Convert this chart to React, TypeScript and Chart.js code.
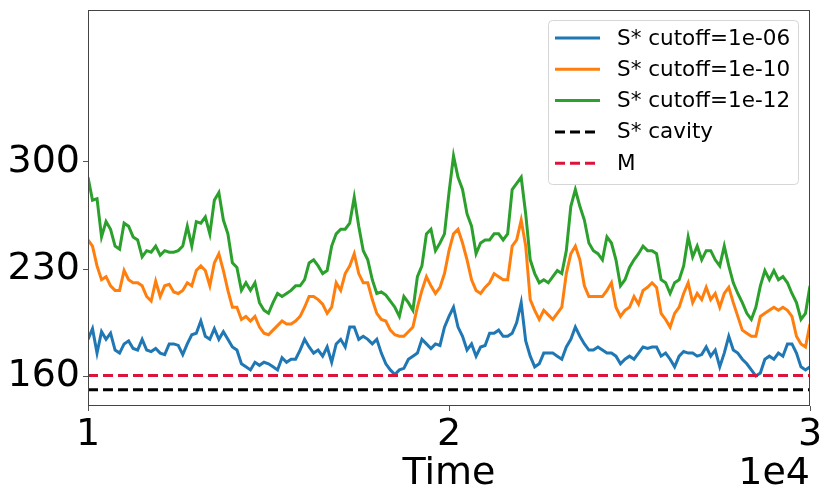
import { useEffect, useRef } from 'react'
import Chart from 'chart.js/auto'

// time axis, shared by the three S* series
const times = [
  10000, 10125, 10250, 10375, 10500, 10625, 10750, 10875, 11000, 11125,
  11250, 11375, 11500, 11625, 11750, 11875, 12000, 12125, 12250, 12375,
  12500, 12625, 12750, 12875, 13000, 13125, 13250, 13375, 13500, 13625,
  13750, 13875, 14000, 14125, 14250, 14375, 14500, 14625, 14750, 14875,
  15000, 15125, 15250, 15375, 15500, 15625, 15750, 15875, 16000, 16125,
  16250, 16375, 16500, 16625, 16750, 16875, 17000, 17125, 17250, 17375,
  17500, 17625, 17750, 17875, 18000, 18125, 18250, 18375, 18500, 18625,
  18750, 18875, 19000, 19125, 19250, 19375, 19500, 19625, 19750, 19875,
  20000, 20125, 20250, 20375, 20500, 20625, 20750, 20875, 21000, 21125,
  21250, 21375, 21500, 21625, 21750, 21875, 22000, 22125, 22250, 22375,
  22500, 22625, 22750, 22875, 23000, 23125, 23250, 23375, 23500, 23625,
  23750, 23875, 24000, 24125, 24250, 24375, 24500, 24625, 24750, 24875,
  25000, 25125, 25250, 25375, 25500, 25625, 25750, 25875, 26000, 26125,
  26250, 26375, 26500, 26625, 26750, 26875, 27000, 27125, 27250, 27375,
  27500, 27625, 27750, 27875, 28000, 28125, 28250, 28375, 28500, 28625,
  28750, 28875, 29000, 29125, 29250, 29375, 29500, 29625, 29750, 29875,
  30000,
]

const cutoff06 = [
  184, 191, 175, 189, 184, 188, 177, 175, 181, 183, 178, 177, 184, 177, 176, 178, 175,
  174, 181, 181, 180, 174, 181, 187, 188, 196, 186, 184, 191, 184, 189, 184, 179,
  177, 168, 166, 164, 169, 167, 169, 168, 166, 164, 172, 169, 171, 171, 177, 184,
  179, 175, 177, 173, 179, 169, 181, 184, 179, 192, 192, 184, 186, 184, 181, 184,
  175, 168, 164, 161, 164, 165, 171, 173, 175, 184, 181, 178, 181, 180, 192, 199,
  205, 192, 186, 177, 181, 173, 179, 180, 188, 188, 190, 186, 186, 188, 195, 208,
  183, 173, 166, 168, 175, 175, 175, 173, 171, 179, 184, 192, 186, 181, 177, 177,
  179, 177, 175, 175, 173, 168, 171, 173, 171, 175, 179, 178, 179, 179, 173, 175,
  171, 166, 173, 176, 175, 175, 173, 174, 179, 173, 177, 166, 175, 186, 177, 175,
  171, 168, 164, 160, 162, 171, 173, 171, 175, 173, 181, 181, 175, 166, 164, 166,
]

const cutoff10 = [
  249, 245, 232, 223, 225, 219, 216, 216, 229, 223, 221, 221, 219, 212, 209, 222, 212,
  219, 220, 215, 214, 216, 221, 219, 229, 232, 229, 219, 234, 240, 229, 216, 205,
  205, 197, 199, 196, 199, 192, 188, 187, 190, 193, 196, 194, 194, 196, 199, 205,
  212, 212, 210, 207, 201, 205, 221, 216, 227, 232, 240, 227, 221, 221, 210, 201,
  197, 196, 190, 187, 186, 186, 189, 192, 205, 216, 225, 219, 214, 218, 227, 242,
  253, 256, 247, 236, 223, 216, 214, 218, 221, 227, 225, 223, 223, 245, 249, 262,
  245, 210, 203, 197, 203, 200, 197, 201, 205, 227, 240, 245, 236, 219, 212, 212,
  212, 212, 216, 221, 205, 199, 203, 205, 212, 207, 216, 218, 221, 218, 201, 197,
  192, 201, 205, 214, 221, 208, 214, 210, 218, 210, 214, 205, 214, 218, 208, 199,
  190, 188, 186, 186, 199, 201, 203, 205, 203, 205, 203, 199, 186, 181, 179, 194,
]

const cutoff12 = [
  290, 275, 276, 251, 261, 256, 245, 243, 260, 258, 251, 249, 238, 242, 241, 245, 239,
  242, 241, 241, 242, 245, 258, 245, 261, 260, 264, 253, 275, 280, 262, 253, 234,
  231, 216, 221, 216, 221, 208, 203, 201, 208, 214, 212, 214, 216, 219, 219, 223,
  234, 236, 232, 227, 229, 245, 253, 256, 256, 260, 277, 258, 242, 236, 223, 214,
  215, 213, 209, 205, 199, 212, 208, 203, 225, 232, 253, 256, 242, 247, 253, 280,
  304, 290, 282, 266, 258, 240, 247, 249, 249, 253, 253, 249, 253, 282, 286, 290,
  266, 236, 227, 221, 223, 221, 225, 229, 227, 242, 271, 282, 271, 262, 247, 242,
  240, 236, 251, 247, 236, 219, 223, 231, 236, 240, 245, 242, 242, 240, 223, 221,
  214, 221, 223, 232, 251, 238, 245, 236, 242, 242, 236, 232, 245, 232, 221, 214,
  208, 201, 197, 205, 219, 229, 223, 229, 223, 225, 221, 214, 208, 197, 201, 219,
]

const cavityLevel = 151
const mLevel = 160.3

const yTicks = [160, 230, 300]
const xTicks = [10000, 20000, 30000]

const labels = ['S* cutoff=1e-06', 'S* cutoff=1e-10', 'S* cutoff=1e-12', 'S* cavity', 'M']
const colors = ['#1f77b4', '#ff7f0e', '#2ca02c', '#000000', '#dc143c']

const FONT = '"DejaVu Sans", sans-serif'

const framePlugin = {
  id: 'frame',
  afterDraw(chart: Chart) {
    const { ctx, chartArea: a } = chart
    ctx.save()
    // axes box
    ctx.strokeStyle = '#444'
    ctx.lineWidth = 1
    ctx.strokeRect(a.left + 0.5, a.top + 0.5, a.right - a.left - 1, a.bottom - a.top - 1)

    // x label + offset text
    ctx.fillStyle = '#000'
    ctx.font = `38px ${FONT}`
    ctx.textBaseline = 'alphabetic'
    ctx.textAlign = 'center'
    ctx.fillText('Time', (a.left + a.right) / 2, 484)
    ctx.textAlign = 'right'
    ctx.fillText('1e4', a.right, 484)

    // legend in the upper right
    const bw = 250
    const bh = 164
    const bx = a.right - 12 - bw
    const by = a.top + 10
    ctx.beginPath()
    ctx.roundRect(bx + 0.5, by + 0.5, bw, bh, 4)
    ctx.fillStyle = 'rgba(255,255,255,0.8)'
    ctx.fill()
    ctx.strokeStyle = '#d6d6d6'
    ctx.stroke()
    ctx.font = `21.5px ${FONT}`
    ctx.textAlign = 'left'
    ctx.textBaseline = 'middle'
    labels.forEach((lab, i) => {
      const y = by + 18 + i * 31.3
      ctx.beginPath()
      ctx.strokeStyle = colors[i]
      ctx.lineWidth = 3
      ctx.setLineDash(i > 2 ? [10, 5] : [])
      ctx.moveTo(bx + 7, y)
      ctx.lineTo(bx + 52, y)
      ctx.stroke()
      ctx.setLineDash([])
      ctx.fillStyle = '#000'
      ctx.fillText(lab, bx + 69, y + 1)
    })
    ctx.restore()
  },
}

export default function App() {
  const canvasRef = useRef<HTMLCanvasElement>(null)
  const chartRef = useRef<Chart | null>(null)

  useEffect(() => {
    document.body.style.margin = '0'
    if (!canvasRef.current) return
    if (chartRef.current) chartRef.current.destroy()

    const series = [cutoff06, cutoff10, cutoff12]
    const lineSets = series.map((vals, i) => ({
      label: labels[i],
      data: times.map((t, j) => ({ x: t, y: vals[j] })),
      borderColor: colors[i],
      borderWidth: 3,
      pointRadius: 0,
      tension: 0,
      order: 5 - i,
    }))
    const levelSets = [cavityLevel, mLevel].map((lvl, k) => ({
      label: labels[3 + k],
      data: [
        { x: times[0], y: lvl },
        { x: times[times.length - 1], y: lvl },
      ],
      borderColor: colors[3 + k],
      borderWidth: 3,
      borderDash: [10, 5],
      pointRadius: 0,
      order: 2 - k,
    }))

    chartRef.current = new Chart(canvasRef.current, {
      type: 'line',
      data: { datasets: [...lineSets, ...levelSets] },
      plugins: [framePlugin],
      options: {
        animation: false,
        responsive: true,
        maintainAspectRatio: false,
        layout: { padding: { top: 10, right: 20, left: 0, bottom: 0 } },
        plugins: {
          legend: { display: false },
          tooltip: { enabled: false },
        },
        scales: {
          x: {
            type: 'linear',
            min: 10000,
            max: 30000,
            afterBuildTicks: (axis: any) => {
              axis.ticks = xTicks.map((v) => ({ value: v }))
            },
            afterFit: (axis: any) => {
              axis.height = 93
              axis.paddingLeft = 0
              axis.paddingRight = 0
            },
            ticks: {
              callback: (v: any) => String(Number(v) / 10000),
              color: '#000',
              font: { family: FONT, size: 38 },
              padding: 1,
              maxRotation: 0,
            },
            grid: { drawOnChartArea: false, tickLength: 5, color: '#555' },
            border: { display: false },
          },
          y: {
            type: 'linear',
            min: 140.4,
            max: 399.4,
            afterBuildTicks: (axis: any) => {
              axis.ticks = yTicks.map((v) => ({ value: v }))
            },
            afterFit: (axis: any) => {
              axis.width = 88
              axis.paddingTop = 0
              axis.paddingBottom = 0
            },
            ticks: {
              color: '#000',
              font: { family: FONT, size: 38 },
              padding: 3,
            },
            grid: { drawOnChartArea: false, tickLength: 5, color: '#555' },
            border: { display: false },
          },
        },
      },
    })

    return () => {
      if (chartRef.current) {
        chartRef.current.destroy()
        chartRef.current = null
      }
    }
  }, [])

  return (
    <div style={{ width: 830, height: 499, position: 'relative', background: '#fff' }}>
      <canvas ref={canvasRef}></canvas>
    </div>
  )
}
